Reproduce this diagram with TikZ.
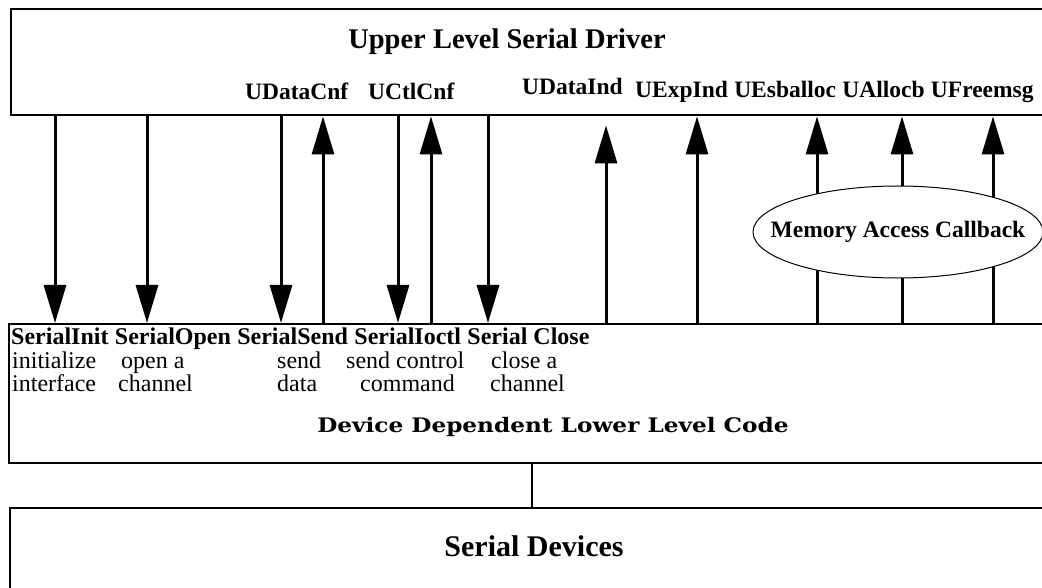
\documentclass[tikz,border=0pt]{standalone}
\usepackage{fontspec}
\setmainfont{Liberation Serif}
\newfontfamily\slabfont{DejaVu Serif}
\usetikzlibrary{arrows.meta,shapes.geometric,backgrounds}

\tikzset{
  layer/.style={draw, line width=2.4pt, rectangle, anchor=north west, inner sep=0pt},
  flow/.style={line width=3pt, -{Triangle[length=38pt,width=22pt]}},
  wire/.style={line width=3pt},
  lbl/.style={font=\bfseries\fontsize{23.5}{28}\selectfont, anchor=base west, inner sep=0pt},
  fn/.style={font=\bfseries\fontsize{24}{28}\selectfont, anchor=base west, inner sep=0pt},
  note/.style={font=\fontsize{24}{28}\selectfont, anchor=base west, inner sep=0pt},
  title/.style={font=\bfseries\fontsize{28.5}{34}\selectfont, anchor=base, inner sep=0pt},
}

\begin{document}
\begin{tikzpicture}[x=1pt,y=-1pt]
\useasboundingbox (0,0) rectangle (1042,588);

% the three layers (open to the right)
\node[layer, minimum width=1060pt, minimum height=106pt] (upper) at (10,8) {};
\node[layer, minimum width=1060pt, minimum height=139pt] (lower) at (8,323) {};
\node[layer, minimum width=1060pt, minimum height=120pt] (devices) at (9,507) {};

\node[title] (uname) at (507,49) {Upper Level Serial Driver};
\node[title, font=\bfseries\fontsize{30}{36}\selectfont] (dname) at (534,556) {Serial Devices};
\node[font=\slabfont\bfseries\fontsize{20}{24}\selectfont, anchor=base, inner sep=0pt] (lname) at (553,432)
  {\scalebox{1.16}[1]{Device Dependent Lower Level Code}};

% callback labels in the upper layer
\node[lbl] (tDataCnf) at (245,100) {UDataCnf};
\node[lbl] (tCtlCnf) at (368,100) {UCtlCnf};
\node[lbl] (tDataInd) at (522,95) {UDataInd};
\node[lbl] (tExpInd) at (635,98) {UExpInd};
\node[lbl] (tEsballoc) at ([xshift=5.9pt]tExpInd.base east) {UEsballoc};
\node[lbl] (tAllocb) at ([xshift=5.9pt]tEsballoc.base east) {UAllocb};
\node[lbl] (tFreemsg) at ([xshift=5.9pt]tAllocb.base east) {UFreemsg};

% entry points in the lower layer
\node[fn] (fInit) at (11,344) {SerialInit};
\node[fn] (fOpen) at ([xshift=6pt]fInit.base east) {SerialOpen};
\node[fn] (fSend) at ([xshift=6pt]fOpen.base east) {SerialSend};
\node[fn] (fIoctl) at ([xshift=6pt]fSend.base east) {SerialIoctl};
\node[fn] (fClose) at ([xshift=6pt]fIoctl.base east) {Serial Close};

\node[note] (nInit1) at (12,368) {initialize};
\node[note] (nInit2) at (12,391) {interface};
\node[note] (nOpen1) at (121,368) {open a};
\node[note] (nOpen2) at (118,391) {channel};
\node[note] (nSend1) at (277,368) {send};
\node[note] (nSend2) at (277,391) {data};
\node[note] (nIoctl1) at (346,368) {send control};
\node[note] (nIoctl2) at (360,391) {command};
\node[note] (nClose1) at (491,368) {close a};
\node[note] (nClose2) at (490,391) {channel};

% memory access callbacks
\node[ellipse, draw, line width=1pt, fill=white, minimum width=290pt, minimum height=92pt] (mem) at (898,232) {};
\node[font=\bfseries\fontsize{23.5}{28}\selectfont, inner sep=0pt] (memtext) at (mem.center) {Memory Access Callback};

% columns of the connectors
\foreach \n/\x in {dInit/55, dOpen/147, dSend/281, dIoctl/398, dClose/488,
                   uDataCnf/323, uCtlCnf/431, uDataInd/606, uExpInd/697,
                   mEsb/817, mAlloc/902, mFree/993, link/532}
  \coordinate (\n) at (\x,0);

% downcalls
\foreach \n in {dInit, dOpen, dSend, dIoctl, dClose}
  \draw[flow] (upper.south -| \n) -- (lower.north -| \n);

% upcalls
\foreach \n in {uDataCnf, uCtlCnf, uExpInd}
  \draw[flow] (lower.north -| \n) -- (upper.south -| \n);
\draw[flow, shorten >=9pt] (lower.north -| uDataInd) -- (upper.south -| uDataInd);

% memory callbacks pass through the ellipse
\begin{scope}[on background layer]
  \foreach \n in {mEsb, mAlloc, mFree} {
    \draw[wire] (lower.north -| \n) -- (mem.center -| \n);
    \draw[flow] (mem.center -| \n) -- (upper.south -| \n);
  }
\end{scope}

% link to the hardware
\draw[line width=1.5pt] (lower.south -| link) -- (devices.north -| link);
\end{tikzpicture}
\end{document}
